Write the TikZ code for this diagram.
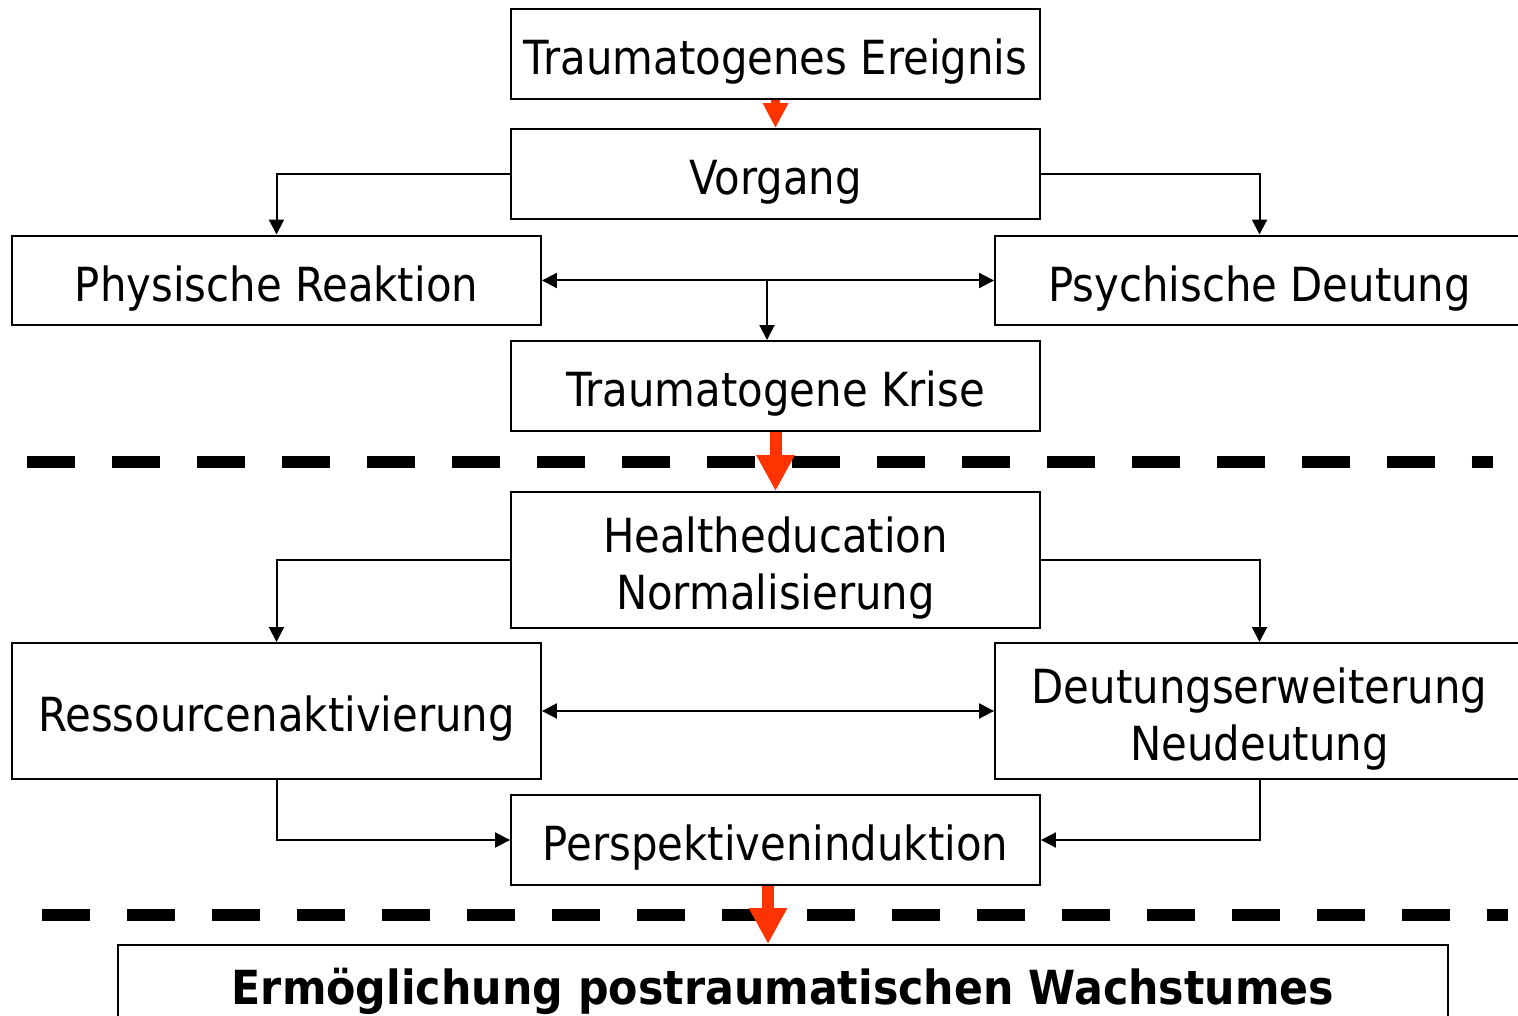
\documentclass[tikz,border=0pt]{standalone}
\usepackage{fontspec}
\setmainfont{DejaVu Sans}[FakeStretch=0.89, BoldFeatures={FakeStretch=0.91}]
\usetikzlibrary{arrows.meta}
\definecolor{pfeilrot}{RGB}{255,51,0}

\tikzset{
  kasten/.style={draw, line width=0.04cm, minimum width=10.58cm, minimum height=1.8cm,
    inner sep=0pt, align=center, text height=1.06cm, text depth=0.22cm,
    font=\fontsize{26.75}{32.4}\selectfont},
  hoch/.style={minimum height=2.72cm},
  zweizeilig/.style={hoch, text height=2.2cm, text depth=0.22cm},
  verbindung/.style={line width=0.04cm},
  rotpfeil/.style={pfeilrot, line width=0.24cm, -{Triangle[width=0.72cm,length=0.72cm]}},
  trenner/.style={line width=0.24cm, dash pattern=on 0.96cm off 0.74cm},
  >={Triangle[width=0.3cm,length=0.3cm]}
}

\begin{document}
\begin{tikzpicture}[x=0.02cm,y=-0.02cm]
\useasboundingbox (0,0) rectangle (1518,1016);
\clip (0,0) rectangle (1518,1016);
% Upper part
\node[kasten] (ereignis) at (775.5,54) {Traumatogenes Ereignis};
\node[kasten] (vorgang) at (775.5,174) {Vorgang};
\node[kasten] (physisch) at (276.5,280.5) {Physische Reaktion};
\node[kasten] (psychisch) at (1259.5,280.5) {Psychische Deutung};
\node[kasten] (krise) at (775.5,386) {Traumatogene Krise};
% Lower part
\node[kasten, zweizeilig] (health) at (775.5,560) {Healtheducation\\Normalisierung};
\node[kasten, hoch] (ressource) at (276.5,711) {Ressourcenaktivierung};
\node[kasten, zweizeilig] (deutung) at (1259.5,711) {Deutungserweiterung\\Neudeutung};
\node[kasten] (perspektive) at (775.5,840) {Perspektiveninduktion};
\node[kasten, minimum width=26.6cm, text height=0.78cm,
  font=\fontsize{26.75}{32.4}\selectfont\bfseries] (wachstum) at (783,990) {Ermöglichung postraumatischen Wachstumes};
% Connectors
\draw[verbindung, ->] (vorgang.west) -| (physisch.north);
\draw[verbindung, ->] (vorgang.east) -| (psychisch.north);
\draw[verbindung, <->] (physisch.east) -- (psychisch.west);
\coordinate (abzweig) at (767,280.5);
\draw[verbindung, ->] (abzweig) -- (abzweig |- krise.north);
\draw[verbindung, ->] (health.west) -| (ressource.north);
\draw[verbindung, ->] (health.east) -| (deutung.north);
\draw[verbindung, <->] (ressource.east) -- (deutung.west);
\draw[verbindung, ->] (ressource.south) |- (perspektive.west);
\draw[verbindung, ->] (deutung.south) |- (perspektive.east);
% Dividers
\draw[trenner] (27,462) -- (1493,462);
\draw[trenner] (42,915) -- (1508,915);
% Red arrows
\draw[rotpfeil, line width=0.18cm, -{Triangle[width=0.48cm,length=0.5cm]}] (ereignis.south) -- (vorgang.north);
\draw[rotpfeil] (krise.south) -- (health.north);
\draw[rotpfeil] ([xshift=-0.15cm]perspektive.south) -- ([xshift=-0.15cm]perspektive.south |- wachstum.north);
\end{tikzpicture}
\end{document}
